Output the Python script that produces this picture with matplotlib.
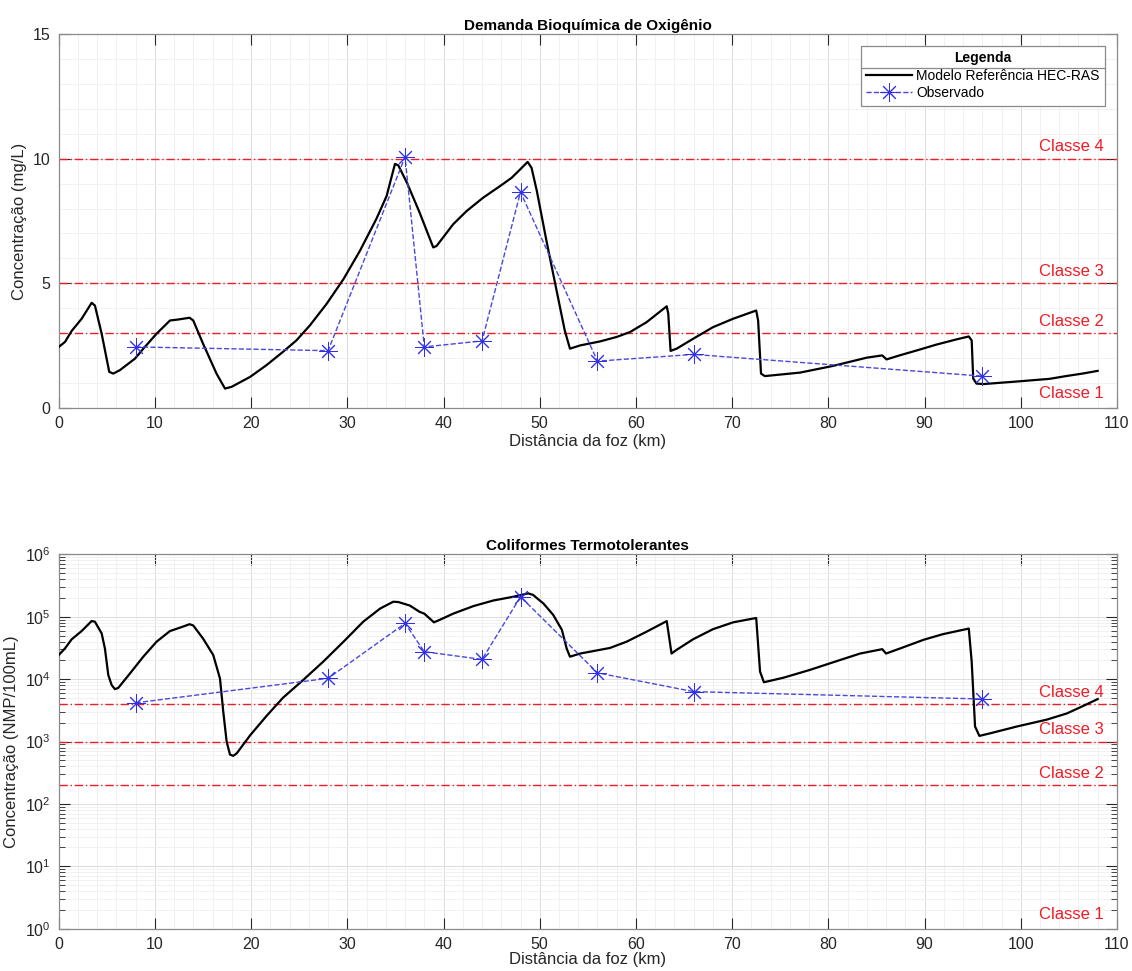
import numpy as np
import matplotlib
matplotlib.use("Agg")
import matplotlib.pyplot as plt
from matplotlib.ticker import MultipleLocator, LogLocator, NullFormatter
from matplotlib.lines import Line2D

plt.rcParams['font.family'] = ['Liberation Sans', 'DejaVu Sans']

# --- DBO (mg/L) ---
dbo_x = [0.0, 0.65, 1.34, 2.38, 3.42, 3.76, 4.46, 5.25, 5.67, 6.36, 7.92, 8.79, 10.17, 11.56,
         12.43, 13.6, 13.98, 15.0, 16.4, 17.28, 17.97, 19.9, 21.6, 23.3, 24.7, 26.1, 27.85,
         29.6, 31.3, 33.0, 34.08, 34.95, 35.3, 36.2, 37.5, 38.93, 39.28, 41.0, 42.4, 44.1,
         45.87, 47.07, 47.94, 48.74, 49.15, 49.7, 50.7, 51.75, 52.6, 53.14, 54.2, 56.26, 58.0,
         59.4, 61.1, 63.2, 63.36, 63.6, 64.23, 65.96, 68.0, 70.1, 72.5, 72.7, 73.0, 73.4,
         77.05, 80.5, 82.2, 84.0, 85.6, 86.05, 87.4, 89.2, 91.2, 93.3, 94.6, 94.9, 95.06,
         95.4, 96.1, 99.5, 103.0, 104.7, 106.4, 108.0]
dbo_modelo = [2.45, 2.65, 3.09, 3.58, 4.22, 4.11, 2.98, 1.45, 1.38, 1.52, 1.98, 2.38, 2.98, 3.51,
              3.55, 3.62, 3.51, 2.58, 1.38, 0.78, 0.85, 1.25, 1.72, 2.25, 2.71, 3.31, 4.18,
              5.17, 6.3, 7.57, 8.5, 9.79, 9.73, 9.03, 7.85, 6.44, 6.5, 7.37, 7.9, 8.43,
              8.9, 9.23, 9.56, 9.87, 9.63, 8.7, 6.7, 4.71, 3.11, 2.38, 2.51, 2.67, 2.85,
              3.05, 3.44, 4.08, 3.78, 2.29, 2.38, 2.78, 3.24, 3.58, 3.91, 3.51, 1.38, 1.28,
              1.42, 1.69, 1.85, 2.02, 2.11, 1.95, 2.11, 2.31, 2.54, 2.75, 2.87, 2.71, 1.18,
              0.98, 0.96, 1.06, 1.17, 1.28, 1.38, 1.49]

# --- Coliformes (NMP/100mL) ---
cf_x = [0.0, 0.65, 1.34, 2.38, 3.42, 3.76, 4.46, 4.8, 5.15, 5.5, 5.84, 6.19, 7.4, 8.79, 10.17,
        11.56, 12.6, 13.6, 13.98, 15.0, 16.06, 16.76, 17.1, 17.45, 17.8, 18.14, 18.5, 19.9,
        21.6, 23.3, 25.4, 27.5, 29.6, 31.65, 33.4, 34.77, 35.3, 36.5, 37.5, 38.0, 39.0, 39.6,
        41.0, 43.1, 45.17, 47.25, 48.8, 49.3, 50.4, 51.4, 52.3, 52.8, 53.14, 54.2, 55.6, 57.3,
        59.03, 61.1, 63.2, 63.47, 63.7, 64.23, 65.96, 68.0, 70.1, 72.5, 72.9, 73.3, 75.3,
        78.05, 80.9, 83.3, 85.6, 86.0, 87.8, 89.9, 91.9, 94.6, 94.9, 95.25, 95.7, 96.8, 99.6,
        102.7, 104.8, 106.5, 108.0]
cf_modelo = [24300, 31100, 43400, 59000, 85300, 83200, 54100, 30900, 11600, 8040, 6900, 7240,
             12300, 22900, 39800, 58900, 66800, 75900, 72400, 44700, 24300, 10200, 3020, 1000,
             617, 589, 646, 1260, 2570, 5010, 9660, 19100, 39800, 83200, 135000, 174000,
             172000, 151000, 120000, 112000, 81300, 89100, 112000, 148000, 182000, 209000,
             237000, 224000, 162000, 107000, 61700, 30900, 22900, 25700, 28200, 31600, 39800,
             57500, 85100, 44700, 25700, 29500, 43700, 63100, 81300, 95500, 13200, 8910, 10500,
             14000, 19500, 25700, 30200, 25700, 32400, 42700, 52500, 64600, 19100, 1740, 1230,
             1350, 1740, 2240, 2820, 3720, 4790]

# --- observados ---
obs_x = [8, 28, 36, 38, 44, 48, 56, 66, 96]
dbo_obs = [2.45, 2.3, 10.07, 2.45, 2.69, 8.66, 1.88, 2.15, 1.28]
cf_obs = [4170, 10300, 78300, 27500, 20700, 209000, 12600, 6300, 4800]

# limites de classe
dbo_lim = [10, 5, 3]
cf_lim = [4000, 1000, 200]
classes = ['Classe 4', 'Classe 3', 'Classe 2']

vermelho = '#ee1c25'

fig = plt.figure(figsize=(11.32, 9.71), dpi=100)
ax1 = fig.add_axes([0.0519, 0.5798, 0.9348, 0.3852])
ax2 = fig.add_axes([0.0519, 0.0436, 0.9348, 0.3855])

star = (8, 2, 0)
for ax, xm, ym, yo, lims in [(ax1, dbo_x, dbo_modelo, dbo_obs, dbo_lim),
                             (ax2, cf_x, cf_modelo, cf_obs, cf_lim)]:
    for lv in lims:
        ax.axhline(lv, color=vermelho, lw=1.0, ls=(0, (6, 2, 1, 2)), zorder=2)
    ax.plot(xm, ym, color='black', lw=1.6, label='Modelo Referência HEC-RAS', zorder=4)
    ax.plot(obs_x, yo, ls='--', color='#4848dc', lw=1.0, marker=star, markersize=13,
            markeredgewidth=0.7, markeredgecolor='#3030e6', label='Observado', zorder=5)
    ax.set_xlim(0, 110)
    ax.xaxis.set_major_locator(MultipleLocator(10))
    ax.xaxis.set_minor_locator(MultipleLocator(2))
    ax.grid(True, which='major', color='#dcdcdc', lw=0.7, zorder=0)
    ax.grid(True, which='minor', color='#efefef', lw=0.6, zorder=0)
    ax.set_axisbelow(True)
    ax.tick_params(which='both', direction='in', top=True, right=True, colors='#262626',
                   labelsize=11.5, pad=6)
    ax.tick_params(axis='x', which='minor', length=0)
    ax.tick_params(which='major', length=8)
    for s in ax.spines.values():
        s.set_color('#8a8a8a')
        s.set_linewidth(0.9)

ax1.set_xlabel('Distância da foz (km)', fontsize=12, color='#262626', labelpad=2)
ax2.set_xlabel('Distância da foz (km)', fontsize=12, color='#262626', labelpad=0)

# superior
ax1.set_ylim(0, 15)
ax1.yaxis.set_major_locator(MultipleLocator(5))
ax1.yaxis.set_minor_locator(MultipleLocator(1))
ax1.tick_params(axis='y', which='minor', length=0)
ax1.set_ylabel('Concentração (mg/L)', fontsize=12, color='#262626')
ax1.set_title('Demanda Bioquímica de Oxigênio', fontsize=11, fontweight='bold', pad=3)
for lv, c in zip(dbo_lim, classes):
    ax1.annotate(c, xy=(108.6, lv), xytext=(0, 3), textcoords='offset points',
                 ha='right', va='bottom', color=vermelho, fontsize=12)
ax1.text(108.6, 0.3, 'Classe 1', ha='right', va='bottom', color=vermelho, fontsize=12)

# inferior
ax2.set_yscale('log')
ax2.set_ylim(1, 1e6)
ax2.yaxis.set_major_locator(LogLocator(base=10, numticks=10))
ax2.yaxis.set_minor_locator(LogLocator(base=10, subs=np.arange(2, 10), numticks=10))
ax2.yaxis.set_minor_formatter(NullFormatter())
ax2.tick_params(axis='y', which='minor', length=4)
ax2.set_ylabel('Concentração (NMP/100mL)', fontsize=12, color='#262626')
ax2.set_title('Coliformes Termotolerantes', fontsize=11, fontweight='bold', pad=3)
for lv, c in zip(cf_lim, classes):
    ax2.annotate(c, xy=(108.6, lv), xytext=(0, 3), textcoords='offset points',
                 ha='right', va='bottom', color=vermelho, fontsize=12)
ax2.text(108.6, 1.3, 'Classe 1', ha='right', va='bottom', color=vermelho, fontsize=12)

leg = ax1.legend(loc='upper right', bbox_to_anchor=(0.989, 0.969), title='Legenda',
                 title_fontproperties={'weight': 'bold', 'size': 10}, fontsize=10,
                 fancybox=False, framealpha=1, edgecolor='#8a8a8a', handlelength=3.3,
                 handletextpad=0.3, borderpad=0.4, labelspacing=0.25, borderaxespad=0)
leg.get_frame().set_linewidth(0.9)

# linha separadora do titulo da legenda
fig.canvas.draw()
r = fig.canvas.get_renderer()
lb = leg.get_window_extent(r)
tb = leg.get_title().get_window_extent(r)
inv = fig.transFigure.inverted()
(x0, ys), (x1, _) = inv.transform([(lb.x0, tb.y0 - 3), (lb.x1, tb.y0 - 3)])
fig.add_artist(Line2D([x0, x1], [ys, ys], transform=fig.transFigure, color='#8a8a8a', lw=0.9))

fig.savefig('out.png', dpi=100)
